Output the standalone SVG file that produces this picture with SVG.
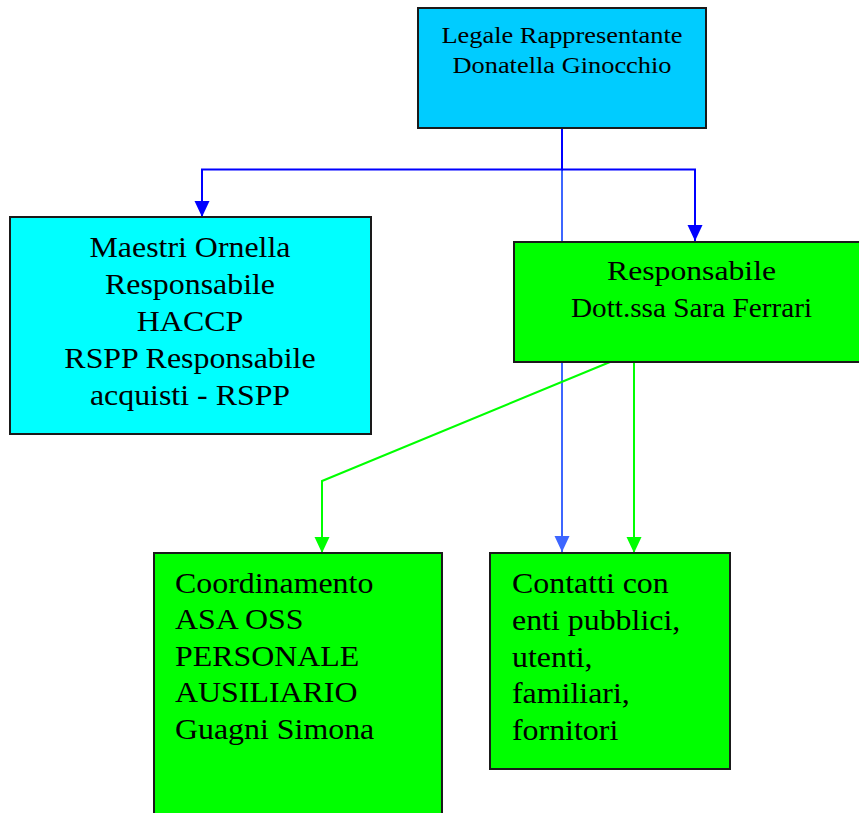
<svg xmlns="http://www.w3.org/2000/svg" width="859" height="813" viewBox="0 0 859 813">
  <style>
    .box { stroke: #1a1a1a; stroke-width: 2; }
    .lbl { font-family: "Liberation Serif", "Times New Roman", serif; fill: #000; }
    .mid { text-anchor: middle; }
    .big { font-size: 29px; }
    .small { font-size: 24px; }
    .edge { fill: none; stroke-width: 2; }
    .blue { stroke: #0000ff; }
    .lblue { stroke: #3d66ff; }
    .green { stroke: #00ff00; }
  </style>
  <defs>
    <marker id="arBlue" viewBox="0 0 16 16" refX="16" refY="8" markerWidth="16" markerHeight="16" markerUnits="userSpaceOnUse" orient="auto">
      <path d="M0,0.5 L16,8 L0,15.5 z" fill="#0000ff"/>
    </marker>
    <marker id="arLBlue" viewBox="0 0 16 16" refX="16" refY="8" markerWidth="16" markerHeight="16" markerUnits="userSpaceOnUse" orient="auto">
      <path d="M0,0.5 L16,8 L0,15.5 z" fill="#3d66ff"/>
    </marker>
    <marker id="arGreen" viewBox="0 0 16 16" refX="16" refY="8" markerWidth="16" markerHeight="16" markerUnits="userSpaceOnUse" orient="auto">
      <path d="M0,0.5 L16,8 L0,15.5 z" fill="#00ff00"/>
    </marker>
  </defs>

  <rect width="859" height="813" fill="#ffffff"/>

  <!-- connectors -->
  <g id="connectors">
    <path class="edge lblue" d="M562,169.5 V552" marker-end="url(#arLBlue)"/>
    <path class="edge blue" d="M562,128 V169.5 H202 V217" marker-end="url(#arBlue)"/>
    <path class="edge blue" d="M562,169.5 H695 V241" marker-end="url(#arBlue)"/>
    <path class="edge green" d="M610,362 L322,481 V553" marker-end="url(#arGreen)"/>
    <path class="edge green" d="M634,362 V553" marker-end="url(#arGreen)"/>
  </g>

  <!-- top: legal representative -->
  <g id="legale">
    <rect class="box" x="418" y="8" width="288" height="120" fill="#00ccff"/>
    <g transform="translate(562 0) scale(1.1 1)">
      <text class="lbl small mid" x="0" y="43">Legale Rappresentante</text>
      <text class="lbl small mid" x="0" y="73">Donatella Ginocchio</text>
    </g>
  </g>

  <!-- HACCP / RSPP -->
  <g id="maestri">
    <rect class="box" x="10" y="217" width="361" height="217" fill="#00ffff"/>
    <g transform="translate(190 0) scale(1.1 1)">
      <text class="lbl big mid" x="0" y="257">Maestri Ornella</text>
      <text class="lbl big mid" x="0" y="294">Responsabile</text>
      <text class="lbl big mid" x="0" y="331">HACCP</text>
      <text class="lbl big mid" x="0" y="368">RSPP Responsabile</text>
      <text class="lbl big mid" x="0" y="405">acquisti - RSPP</text>
    </g>
  </g>

  <!-- manager -->
  <g id="responsabile">
    <rect class="box" x="514" y="242" width="356" height="120" fill="#00ff00"/>
    <text class="lbl mid" x="691.5" y="280" font-size="28" textLength="169" lengthAdjust="spacingAndGlyphs">Responsabile</text>
    <text class="lbl mid" x="691.5" y="317" font-size="28" textLength="241" lengthAdjust="spacingAndGlyphs">Dott.ssa Sara Ferrari</text>
  </g>

  <!-- coordination -->
  <g id="coordinamento">
    <rect class="box" x="154" y="553" width="288" height="270" fill="#00ff00"/>
    <g transform="translate(175 0) scale(1.1 1)">
      <text class="lbl big" x="0" y="593">Coordinamento</text>
      <text class="lbl big" x="0" y="629.5">ASA OSS</text>
      <text class="lbl big" x="0" y="666">PERSONALE</text>
      <text class="lbl big" x="0" y="702.5">AUSILIARIO</text>
      <text class="lbl big" x="0" y="739">Guagni Simona</text>
    </g>
  </g>

  <!-- contacts -->
  <g id="contatti">
    <rect class="box" x="490" y="553" width="240" height="216" fill="#00ff00"/>
    <g transform="translate(512 0) scale(1.1 1)">
      <text class="lbl big" x="0" y="593">Contatti con</text>
      <text class="lbl big" x="0" y="630">enti pubblici,</text>
      <text class="lbl big" x="0" y="667">utenti,</text>
      <text class="lbl big" x="0" y="703">familiari,</text>
      <text class="lbl big" x="0" y="740">fornitori</text>
    </g>
  </g>
</svg>
